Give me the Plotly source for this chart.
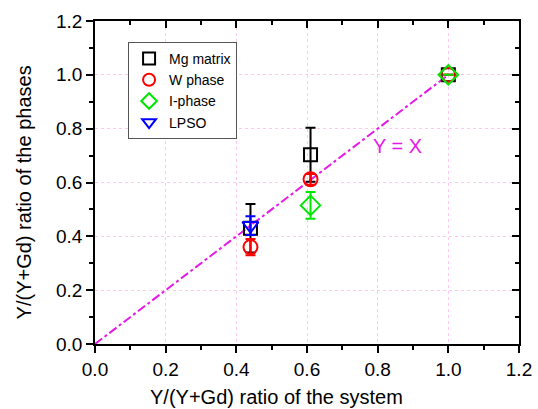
import plotly.graph_objects as go

# Data
x_sys = [0.44, 0.61, 1.0]
mg_y = [0.43, 0.703, 1.0]
mg_err = [0.09, 0.10, 0.0]
w_y = [0.36, 0.612, 1.0]
w_err = [0.03, 0.02, 0.0]
i_x = [0.61, 1.0]
i_y = [0.515, 1.0]
i_err = [0.05, 0.0]
lpso_x = [0.44]
lpso_y = [0.44]
lpso_err = [0.035]
line_x = [0.0, 1.0]
line_y = [0.0, 1.0]

font = "Liberation Sans, Arial, sans-serif"
fig = go.Figure()

fig.add_trace(go.Scatter(x=line_x, y=line_y, mode="lines",
                         line=dict(color="#e619e6", width=2, dash="dashdot"),
                         showlegend=False, hoverinfo="skip"))

def add(name, xs, ys, errs, color, symbol, rank, size=13):
    fig.add_trace(go.Scatter(
        x=xs, y=ys, mode="markers", name=name, legendrank=rank,
        marker=dict(symbol=symbol, size=size, color=color,
                    line=dict(color=color, width=2)),
        error_y=dict(type="data", array=errs, visible=True, color=color,
                     thickness=2, width=5)))

add("Mg matrix", x_sys, mg_y, mg_err, "black", "square-open", 1)
add("W phase", x_sys, w_y, w_err, "#ff0000", "circle-open", 2, 14)
add("LPSO", lpso_x, lpso_y, lpso_err, "#0000ff", "triangle-down-open", 4, 14)
add("I-phase", i_x, i_y, i_err, "#00e600", "diamond-open", 3, 15)

fig.add_annotation(x=0.855, y=0.735, text="Y = X", showarrow=False,
                   font=dict(family=font, size=20, color="#e619e6"))

fig.add_annotation(xref="paper", yref="paper", x=0.427, y=-0.164,
                   text="Y/(Y+Gd) ratio of the system", showarrow=False,
                   xanchor="center", yanchor="middle",
                   font=dict(family=font, size=20, color="black"))
fig.add_annotation(xref="paper", yref="paper", x=-0.167, y=0.47,
                   text="Y/(Y+Gd) ratio of the phases", showarrow=False,
                   textangle=-90, xanchor="center", yanchor="middle",
                   font=dict(family=font, size=20, color="black"))

main_common = dict(
    range=[0, 1.2], showline=True, linecolor="black", linewidth=1.5,
    ticks="outside", ticklen=7, tickwidth=1.5, tickcolor="black",
    showgrid=True, gridcolor="#ffc8ec", griddash="dot", gridwidth=1,
    zeroline=False, tickmode="linear", dtick=0.2, tick0=0, tickformat=".1f",
    tickfont=dict(family=font, size=19, color="black"),
    minor=dict(ticks="outside", ticklen=4, tickwidth=1.5, tickcolor="black",
               tickmode="linear", dtick=0.1, tick0=0, showgrid=False),
)

def tick_axis(length, dt):
    return dict(range=[0, 1.2], showline=True, linecolor="black", linewidth=1.5,
                ticks="inside", ticklen=length, tickwidth=1.5, tickcolor="black",
                showticklabels=False, showgrid=False, gridcolor="rgba(0,0,0,0)",
                zeroline=False, tickmode="linear", dtick=dt, tick0=0)

fig.update_layout(
    width=538, height=409,
    margin=dict(l=95, r=19, t=21, b=65, autoexpand=False),
    paper_bgcolor="white", plot_bgcolor="white",
    xaxis=dict(**main_common),
    yaxis=dict(**main_common),
    xaxis2=dict(overlaying="x", anchor="y", side="top", **tick_axis(7, 0.2)),
    yaxis2=dict(overlaying="y", anchor="x", side="right", **tick_axis(7, 0.2)),
    xaxis3=dict(overlaying="x", anchor="y", side="top", **tick_axis(4, 0.1)),
    yaxis3=dict(overlaying="y", anchor="x", side="right", **tick_axis(4, 0.1)),
    legend=dict(x=0.078, y=0.935, xanchor="left", yanchor="top",
                bgcolor="white", bordercolor="#555", borderwidth=1,
                font=dict(family=font, size=14, color="black"),
                tracegroupgap=0, itemsizing="constant"),
)

for xa, ya in [("x2", "y2"), ("x3", "y3")]:
    fig.add_trace(go.Scatter(x=[None], y=[None], xaxis=xa, yaxis=ya,
                             showlegend=False, hoverinfo="skip"))

fig.write_html("out.html")
